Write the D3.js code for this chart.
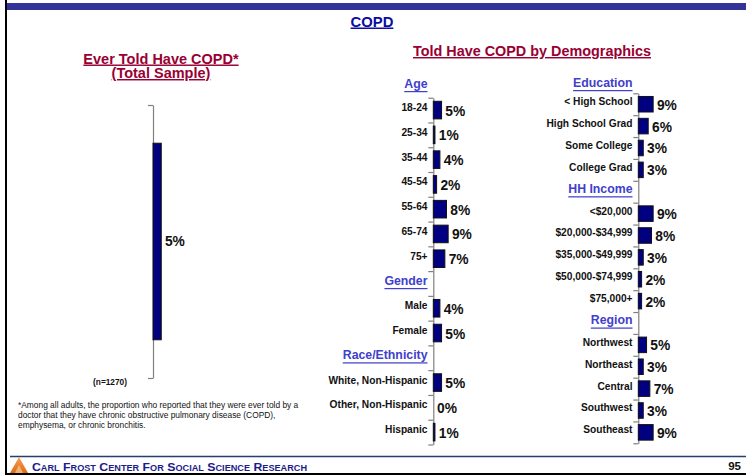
<!DOCTYPE html>
<html>
<head>
<meta charset="utf-8">
<script src="https://cdn.jsdelivr.net/npm/d3@7"></script>
<style>
  html, body { margin: 0; padding: 0; background: #fff; }
  svg { display: block; font-family: "Liberation Sans", Arial, sans-serif; }
</style>
</head>
<body>
<svg id="chart" width="746" height="475"></svg>
<script>
// ---------- data ----------
const totalCategory = ["Total Sample"];
const totalValues = [5];
const ageCats = ["18-24", "25-34", "35-44", "45-54", "55-64", "65-74", "75+"];
const ageVals = [5, 1, 4, 2, 8, 9, 7];
const genderCats = ["Male", "Female"];
const genderVals = [4, 5];
const raceCats = ["White, Non-Hispanic", "Other, Non-Hispanic", "Hispanic"];
const raceVals = [5, 0, 1];
const eduCats = ["< High School", "High School Grad", "Some College", "College Grad"];
const eduVals = [9, 6, 3, 3];
const incomeCats = ["<$20,000", "$20,000-$34,999", "$35,000-$49,999", "$50,000-$74,999", "$75,000+"];
const incomeVals = [9, 8, 3, 2, 2];
const regionCats = ["Northwest", "Northeast", "Central", "Southwest", "Southeast"];
const regionVals = [5, 3, 7, 3, 9];

const svg = d3.select("#chart");
const FONT = "'Liberation Sans', Arial, sans-serif";
const NAVY = "#000080";
const HEAD = "#4040cc";
const CRIMSON = "#990033";

// ---------- frame ----------
svg.append("rect").attr("x", 5).attr("y", 0).attr("width", 2).attr("height", 475).attr("fill", "#000");
svg.append("rect").attr("x", 5).attr("y", 473).attr("width", 741).attr("height", 2).attr("fill", "#000");
svg.append("rect").attr("x", 7).attr("y", 3).attr("width", 739).attr("height", 7).attr("fill", "#333399");

// ---------- titles ----------
function title(x, y, txt, size, color) {
  svg.append("text").attr("x", x).attr("y", y).attr("text-anchor", "middle")
    .attr("font-size", size).attr("font-weight", "bold").attr("fill", color)
    .style("text-decoration", "underline").text(txt);
}
title(372, 26.5, "COPD", 14.8, "#0c0ca0");
title(532, 56, "Told Have COPD by Demographics", 14.4, CRIMSON);
title(161, 63.5, "Ever Told Have COPD*", 14.5, CRIMSON);
title(161, 78, "(Total Sample)", 14.5, CRIMSON);

// ---------- value scale ----------
const x = d3.scaleLinear().domain([0, 100]).range([0, 165]);

// ---------- generic axis drawer ----------
function drawAxis(axisX, top, bottom, n) {
  const idx = d3.scaleLinear().domain([0, n]).range([top, bottom]);
  const g = svg.append("g").attr("transform", `translate(${axisX},0)`)
    .call(d3.axisLeft(idx).tickValues(d3.range(n + 1)).tickFormat("").tickSizeInner(5).tickSizeOuter(0));
  g.select(".domain").attr("stroke", "#808080").attr("stroke-width", 1.2);
  g.selectAll(".tick line").attr("stroke", "#808080").attr("stroke-width", 1.2);
}

// ---------- left total chart ----------
(function () {
  const axisX = 153, top = 105, bottom = 378;
  const yb = d3.scaleBand().domain(totalCategory).range([top, bottom]).paddingInner(0.28).paddingOuter(0.14);
  drawAxis(axisX, top, bottom, 1);
  svg.selectAll(".totbar").data(totalValues).join("rect")
    .attr("x", axisX).attr("y", (d, i) => yb(totalCategory[i]))
    .attr("width", d => x(d)).attr("height", yb.bandwidth())
    .attr("fill", NAVY).attr("stroke", "#111").attr("stroke-width", 1);
  svg.selectAll(".totlab").data(totalValues).join("text")
    .attr("x", d => axisX + x(d) + 3.7).attr("y", (d, i) => yb(totalCategory[i]) + yb.bandwidth() / 2)
    .attr("dominant-baseline", "central").attr("font-size", 13.8).attr("font-weight", "bold")
    .attr("fill", "#111").text(d => d + "%");
  svg.append("text").attr("x", 110).attr("y", 381.5).attr("text-anchor", "middle")
    .attr("dominant-baseline", "central").attr("font-size", 8.3).attr("font-weight", "bold")
    .attr("fill", "#111").text("(n=1270)");
})();

// ---------- footnote ----------
const noteLines = [
  "*Among all adults, the proportion who reported that they were ever told by a",
  "doctor that they have chronic obstructive pulmonary disease (COPD),",
  "emphysema, or chronic bronchitis."
];
svg.selectAll(".note").data(noteLines).join("text")
  .attr("x", 18).attr("y", (d, i) => 407.5 + i * 10)
  .attr("font-size", 8.4).attr("fill", "#111").text(d => d);

// ---------- demographic columns ----------
function buildColumn(groups, axisX, top, bottom, headerAbove, headerAboveY) {
  const rows = [];
  groups.forEach((g, gi) => {
    if (gi > 0) rows.push({ key: "H:" + g.name, header: g.name });
    g.cats.forEach((c, i) => rows.push({ key: c, label: c, value: g.vals[i] }));
  });
  const keys = rows.map(r => r.key);
  const rowScale = d3.scaleBand().domain(keys).range([top, bottom]).padding(0);
  const barScale = d3.scaleBand().domain(keys).range([top, bottom]).paddingInner(0.29).paddingOuter(0.145);
  const center = k => rowScale(k) + rowScale.bandwidth() / 2;

  drawAxis(axisX, top, bottom, rows.length);

  const labelX = axisX - 5.8;
  // header above axis
  svg.append("text").attr("x", labelX).attr("y", headerAboveY).attr("text-anchor", "end")
    .attr("dominant-baseline", "central").attr("font-size", 12.3).attr("font-weight", "bold")
    .attr("fill", HEAD).style("text-decoration", "underline").text(headerAbove);

  const data = rows.filter(r => r.label !== undefined);
  const heads = rows.filter(r => r.header !== undefined);

  svg.append("g").selectAll("text").data(heads).join("text")
    .attr("x", labelX).attr("y", d => center(d.key) - 2.5).attr("text-anchor", "end")
    .attr("dominant-baseline", "central").attr("font-size", 12.3).attr("font-weight", "bold")
    .attr("fill", HEAD).style("text-decoration", "underline").text(d => d.header);

  svg.append("g").selectAll("rect").data(data).join("rect")
    .attr("x", axisX).attr("y", d => barScale(d.key))
    .attr("width", d => x(d.value)).attr("height", barScale.bandwidth())
    .attr("fill", NAVY).attr("stroke", "#111").attr("stroke-width", d => d.value > 0 ? 1 : 0);

  svg.append("g").selectAll("text").data(data).join("text")
    .attr("x", labelX).attr("y", d => center(d.key) - 2.5).attr("text-anchor", "end")
    .attr("dominant-baseline", "central").attr("font-size", 10.2).attr("font-weight", "bold")
    .attr("fill", "#111").text(d => d.label);

  svg.append("g").selectAll("text").data(data).join("text")
    .attr("x", d => axisX + x(d.value) + 3.8).attr("y", d => center(d.key) + 1)
    .attr("dominant-baseline", "central").attr("font-size", 13.8).attr("font-weight", "bold")
    .attr("fill", "#111").text(d => d.value + "%");
}

buildColumn([
  { name: "Age", cats: ageCats, vals: ageVals },
  { name: "Gender", cats: genderCats, vals: genderVals },
  { name: "Race/Ethnicity", cats: raceCats, vals: raceVals }
], 433.3, 97.7, 444.5, "Age", 84);

buildColumn([
  { name: "Education", cats: eduCats, vals: eduVals },
  { name: "HH Income", cats: incomeCats, vals: incomeVals },
  { name: "Region", cats: regionCats, vals: regionVals }
], 638.3, 93.3, 443.3, "Education", 83);

// ---------- footer ----------
svg.append("line").attr("x1", 10).attr("x2", 746).attr("y1", 456.5).attr("y2", 456.5)
  .attr("stroke", "#25406e").attr("stroke-width", 1.5);
const defs = svg.append("defs");
const grad = defs.append("linearGradient").attr("id", "logoGrad").attr("x1", 0).attr("y1", 0).attr("x2", 0).attr("y2", 1);
grad.append("stop").attr("offset", "0%").attr("stop-color", "#f7a25a");
grad.append("stop").attr("offset", "100%").attr("stop-color", "#e06a10");
svg.append("path").attr("d", "M10,473 L19,457 L28,473 Z").attr("fill", "url(#logoGrad)");
svg.append("path").attr("d", "M15,473 L19,465 L23,473 Z").attr("fill", "#f9c08a").attr("opacity", 0.8);

const footerWords = ["Carl", "Frost", "Center", "for", "Social", "Science", "Research"];
const ft = svg.append("text").attr("x", 32).attr("y", 470.5).attr("font-weight", "bold")
  .attr("fill", "#1c1c8a").attr("textLength", 275).attr("lengthAdjust", "spacingAndGlyphs");
footerWords.forEach((w, i) => {
  ft.append("tspan").attr("font-size", 11).text((i > 0 ? " " : "") + w[0].toUpperCase());
  ft.append("tspan").attr("font-size", 8.2).text(w.slice(1).toUpperCase());
});
svg.append("text").attr("x", 741).attr("y", 469.5).attr("text-anchor", "end")
  .attr("font-size", 11.5).attr("font-weight", "bold").attr("fill", "#111").text("95");
</script>
</body>
</html>
